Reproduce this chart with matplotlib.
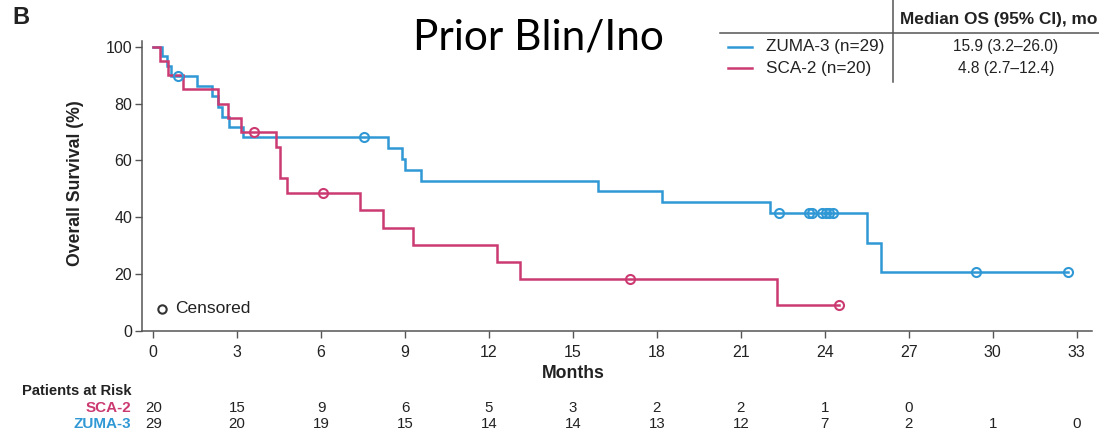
import numpy as np
import matplotlib
matplotlib.use("Agg")
import matplotlib.pyplot as plt
from matplotlib.lines import Line2D
import matplotlib.transforms as mtransforms

plt.rcParams['font.family'] = ['Liberation Sans', 'DejaVu Sans']

# ---------------- data ----------------
zuma_times = [0, 0.3, 0.5, 0.65, 1.56, 2.1, 2.3, 2.45, 2.7, 3.2, 8.38, 8.89, 9.0, 9.58,
              15.9, 18.2, 22.05, 25.5, 26.0]
zuma_surv = [100, 96.6, 93.1, 89.7, 86.1, 82.5, 78.9, 75.3, 71.7, 68.1, 64.3, 60.5, 56.7, 52.9,
             49.1, 45.3, 41.5, 31.1, 20.8]
zuma_cens_t = [0.9, 7.55, 22.35, 23.45, 23.55, 23.9, 24.05, 24.15, 24.3, 29.4, 32.7]
zuma_cens_s = [89.7, 68.1, 41.5, 41.5, 41.5, 41.5, 41.5, 41.5, 41.5, 20.8, 20.8]

sca_times = [0, 0.25, 0.52, 1.06, 2.3, 2.69, 3.15, 4.4, 4.54, 4.78, 7.4, 8.21, 9.28, 12.3, 13.1, 22.3]
sca_surv = [100, 95, 90, 85, 80, 75, 70, 64.6, 53.8, 48.5, 42.4, 36.4, 30.3, 24.2, 18.2, 9.1]
sca_cens_t = [3.59, 6.07, 17.05, 24.5]
sca_cens_s = [70, 48.5, 18.2, 9.1]

month_ticks = [0, 3, 6, 9, 12, 15, 18, 21, 24, 27, 30, 33]
surv_ticks = [0, 20, 40, 60, 80, 100]
sca_risk = [20, 15, 9, 6, 5, 3, 2, 2, 1, 0]
zuma_risk = [29, 20, 19, 15, 14, 14, 13, 12, 7, 2, 1, 0]

zuma_label = "ZUMA-3 (n=29)"
sca_label = "SCA-2 (n=20)"
zuma_median = "15.9 (3.2\u201326.0)"
sca_median = "4.8 (2.7\u201312.4)"

BLUE = '#3098d5'
PINK = '#cc3a72'
TXT = '#222222'

W, H = 1099, 433
fig = plt.figure(figsize=(W / 100, H / 100), dpi=100)

def fx(px):
    return px / W

def fy(py):
    return 1 - py / H

ax_left, ax_right, ax_top, ax_bot = 142, 1092, 41, 331
ax = fig.add_axes([fx(ax_left), fy(ax_bot), fx(ax_right - ax_left), (ax_bot - ax_top) / H])

def km(ax, t, s, ct, cs, color):
    end = max(max(ct), t[-1])
    tt = list(t) + [end]
    ss = list(s) + [s[-1]]
    ax.step(tt, ss, where='post', color=color, lw=1.8, solid_joinstyle='miter', zorder=3)
    ax.plot(ct, cs, 'o', ms=6.5, mfc='none', mec=color, mew=1.5, zorder=4)

km(ax, zuma_times, zuma_surv, zuma_cens_t, zuma_cens_s, BLUE)
km(ax, sca_times, sca_surv, sca_cens_t, sca_cens_s, PINK)

ax.set_xlim(-0.4, 33.55)
ax.set_ylim(0, 102)
ax.set_xticks(month_ticks)
ax.set_yticks(surv_ticks)
ax.tick_params(axis='both', direction='out', length=5, width=1, color='#555555',
               labelsize=11.5, labelcolor=TXT)
ax.tick_params(axis='x', pad=5)
ax.tick_params(axis='y', pad=2)
for sp in ['top', 'right']:
    ax.spines[sp].set_visible(False)
for sp in ['left', 'bottom']:
    ax.spines[sp].set_color('#555555')
    ax.spines[sp].set_linewidth(1.1)

# censored legend
ax.plot([0.3], [7.8], 'o', ms=6, mfc='none', mec='#333333', mew=1.5, clip_on=False)
ax.text(0.8, 7.8, 'Censored', fontsize=12.5, color=TXT, va='center', ha='left')

# axis labels
fig.text(fx(573), fy(374), 'Months', fontsize=12.7, fontweight='bold', color=TXT,
         ha='center', va='center')
fig.text(fx(76), fy(183), 'Overall Survival (%)', fontsize=12.7, fontweight='bold',
         color=TXT, ha='center', va='center', rotation=90)

# panel letter and title
fig.text(fx(12), fy(18), 'B', fontsize=17, fontweight='bold', color=TXT, ha='left', va='center')
fig.text(fx(538), fy(38), 'Prior Blin/Ino', fontsize=30.5, color='black', ha='center',
         va='center', family=['Lato', 'DejaVu Sans'])

# risk table
trans = mtransforms.blended_transform_factory(ax.transData, fig.transFigure)
fig.text(fx(131), fy(391), 'Patients at Risk', fontsize=10.6, fontweight='bold', color=TXT,
         ha='right', va='center')
fig.text(fx(131), fy(408), 'SCA-2', fontsize=11, fontweight='bold', color=PINK, ha='right', va='center')
fig.text(fx(131), fy(424), 'ZUMA-3', fontsize=11, fontweight='bold', color=BLUE, ha='right', va='center')
for m, r in zip(month_ticks, sca_risk):
    ax.text(m, fy(408), str(r), transform=trans, fontsize=10.8, color=TXT, ha='center', va='center')
for m, r in zip(month_ticks, zuma_risk):
    ax.text(m, fy(424), str(r), transform=trans, fontsize=10.8, color=TXT, ha='center', va='center')

# legend table
fig.add_artist(Line2D([fx(720), fx(1099)], [fy(32.5), fy(32.5)], color='#555555', lw=1.1))
fig.add_artist(Line2D([fx(893), fx(893)], [fy(0), fy(82)], color='#555555', lw=1.1))
fig.text(fx(900), fy(19.5), 'Median OS (95% CI), mo', fontsize=12.4, fontweight='bold', color=TXT,
         ha='left', va='center')
fig.add_artist(Line2D([fx(728), fx(752)], [fy(47), fy(47)], color=BLUE, lw=1.8))
fig.add_artist(Line2D([fx(728), fx(752)], [fy(68), fy(68)], color=PINK, lw=1.8))
fig.text(fx(766), fy(46.5), zuma_label, fontsize=12.3, color=TXT, ha='left', va='center')
fig.text(fx(766), fy(68), sca_label, fontsize=12.3, color=TXT, ha='left', va='center')
fig.text(fx(1006), fy(46.5), zuma_median, fontsize=11.2, color=TXT, ha='center', va='center')
fig.text(fx(1006), fy(68), sca_median, fontsize=11.2, color=TXT, ha='center', va='center')

fig.savefig('out.png', dpi=100)
